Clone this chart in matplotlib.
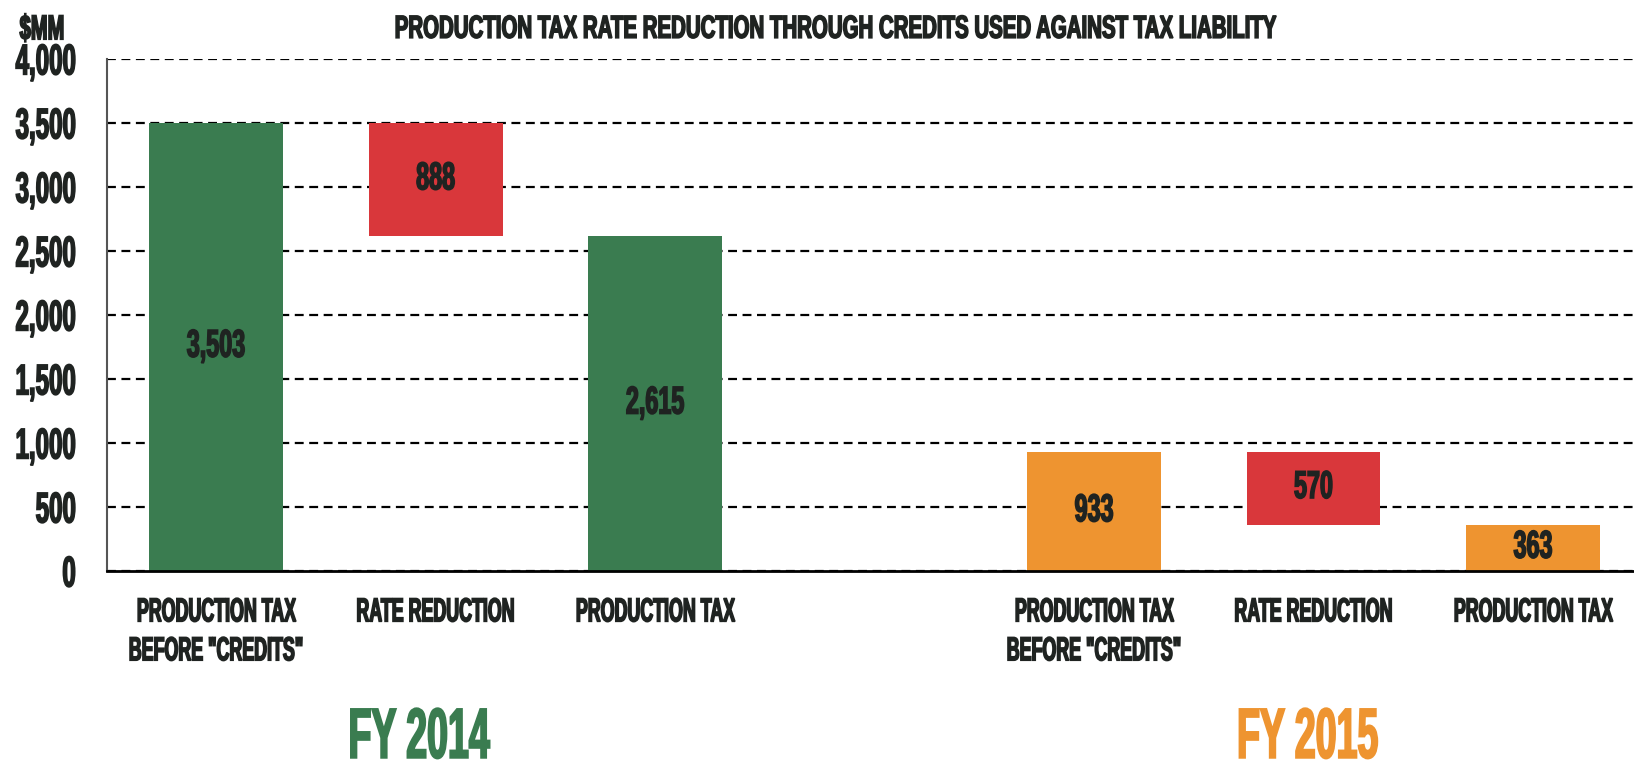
import matplotlib
matplotlib.use("Agg")
import matplotlib.pyplot as plt
from matplotlib.patheffects import AbstractPathEffect
from matplotlib.transforms import Affine2D

# Waterfall data, $MM
stufen = ['PRODUCTION TAX\nBEFORE "CREDITS"', 'RATE REDUCTION', 'PRODUCTION TAX',
          'PRODUCTION TAX\nBEFORE "CREDITS"', 'RATE REDUCTION', 'PRODUCTION TAX']
pozycje = [0, 1, 2, 4, 5, 6]
wartosci = [3503, 888, 2615, 933, 570, 363]
podstawy = [0, 2615, 0, 0, 363, 0]
kolory = ['#3a7c50', '#d9373b', '#3a7c50', '#ee9430', '#d9373b', '#ee9430']
lata = ['FY 2014', 'FY 2015']
kolory_lat = ['#3a7c50', '#ee9430']
osie_y = [0, 500, 1000, 1500, 2000, 2500, 3000, 3500, 4000]

TEKST = '#1f2321'
FONT = ['Liberation Sans', 'DejaVu Sans']


class Scisk(AbstractPathEffect):
    """Zweza tekst w poziomie i pogrubia go obrysem (czcionka typu 'condensed')."""
    def __init__(self, sx=0.6, kotwica='center', obrys=1.1):
        super().__init__()
        self.sx = sx
        self.kotwica = kotwica
        self.obrys = obrys

    def draw_path(self, renderer, gc, tpath, affine, rgbFace=None):
        ext = tpath.get_extents()
        x0 = {'left': ext.x0, 'center': (ext.x0 + ext.x1) / 2, 'right': ext.x1}[self.kotwica]
        sc = Affine2D().translate(-x0, 0).scale(self.sx, 1).translate(x0, 0)
        gc0 = renderer.new_gc()
        gc0.copy_properties(gc)
        gc0.set_linewidth(self.obrys)
        gc0.set_foreground(rgbFace)
        gc0.set_joinstyle('miter')
        renderer.draw_path(gc0, tpath, sc + affine, rgbFace)
        gc0.restore()


plt.rcParams['font.family'] = FONT
plt.rcParams['font.weight'] = 'bold'

fig = plt.figure(figsize=(16.34, 7.65), dpi=100)
ax = fig.add_axes([0.0655, 0.2536, 0.9345, 0.6694])

ax.bar(pozycje, wartosci, bottom=podstawy, width=0.61, color=kolory, zorder=3)

# Etykiety wartosci w srodku slupkow
for x, v, b in zip(pozycje, wartosci, podstawy):
    ax.text(x, b + v / 2, f'{v:,}', ha='center', va='center', fontsize=28,
            color=TEKST, zorder=4, path_effects=[Scisk(0.6)])

ax.set_xlim(-0.497, 6.46)
ax.set_ylim(0, 4000)
ax.set_yticks(osie_y)
ax.set_yticklabels([f'{v:,}' for v in osie_y])
ax.set_xticks(pozycje)
ax.set_xticklabels(stufen)

ax.tick_params(axis='y', length=0, pad=22, labelsize=31, labelcolor=TEKST)
ax.tick_params(axis='x', length=0, pad=19, labelsize=24, labelcolor=TEKST)
for t in ax.get_yticklabels():
    t.set_path_effects([Scisk(0.56, kotwica='right')])
for t in ax.get_xticklabels():
    t.set_linespacing(1.33)
    t.set_path_effects([Scisk(0.535)])

# Siatka przerywana
ax.yaxis.grid(True, color='black', linestyle=(0, (4, 2.5)), linewidth=1.6, zorder=1)
ax.set_axisbelow(True)

for s in ['top', 'right']:
    ax.spines[s].set_visible(False)
ax.spines['left'].set_color('#555555')
ax.spines['left'].set_linewidth(1.5)
ax.spines['bottom'].set_color('black')
ax.spines['bottom'].set_linewidth(2)
ax.spines['bottom'].set_zorder(5)

fig.text(0.512, 0.961, 'PRODUCTION TAX RATE REDUCTION THROUGH CREDITS USED AGAINST TAX LIABILITY',
         ha='center', va='center', fontsize=23, color=TEKST, path_effects=[Scisk(0.64)])
fig.text(0.026, 0.961, '$MM', ha='center', va='center', fontsize=25, color=TEKST,
         path_effects=[Scisk(0.58)])

for x, rok, kol in zip([0.256, 0.80], lata, kolory_lat):
    fig.text(x, 0.033, rok, ha='center', va='center', fontsize=51, color=kol,
             path_effects=[Scisk(0.53, obrys=1.4)])

fig.savefig('out.png', dpi=100)
